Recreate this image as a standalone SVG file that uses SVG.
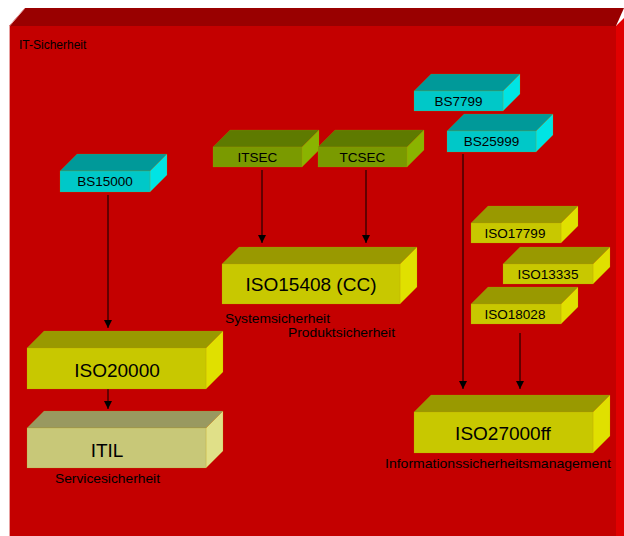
<svg xmlns="http://www.w3.org/2000/svg" width="624" height="536" viewBox="0 0 624 536">
  <defs>
    <marker id="arrow" markerUnits="userSpaceOnUse" markerWidth="8" markerHeight="8" refX="8" refY="4" orient="auto">
      <path d="M0,0 L8,4 L0,8 z" fill="#000"/>
    </marker>
  </defs>
  <style>
    text { font-family: "Liberation Sans", Arial, sans-serif; fill: #000; }
    .small { font-size: 13.5px; text-anchor: middle; }
    .big { font-size: 19px; text-anchor: middle; }
    .caption { font-size: 13px; }
    .edge { stroke: #000; stroke-width: 1; fill: none; marker-end: url(#arrow); }
    .cyan .front { fill: #00c8c8; } .cyan .top { fill: #009999; } .cyan .side { fill: #00e4e4; }
    .green .front { fill: #7a9a00; } .green .top { fill: #5e7a00; } .green .side { fill: #8ab400; }
    .yellow .front { fill: #c8c800; } .yellow .top { fill: #999900; } .yellow .side { fill: #e0e000; }
    .pale .front { fill: #c8c878; } .pale .top { fill: #999960; } .pale .side { fill: #e0e088; }
    .front, .top, .side { stroke: #b89000; stroke-width: 0.5; stroke-opacity: 0.4; }
  </style>

  <rect width="624" height="536" fill="#ffffff"/>

  <!-- outer container: IT-Sicherheit -->
  <g id="it-sicherheit">
    <polygon points="9,26 25,8 624,8 616,26" fill="#990000"/>
    <polygon points="616,26 624,18 624,536 616,536" fill="#e00000"/>
    <rect x="9" y="26" width="607" height="510" fill="#c40000"/>
    <line x1="9.5" y1="26" x2="9.5" y2="536" stroke="#e8a0a0" stroke-width="1"/>
    <line x1="9.5" y1="26" x2="25" y2="8" stroke="#e8a0a0" stroke-width="1"/>
    <text x="19" y="49" style="font-size:12px">IT-Sicherheit</text>
  </g>

  <!-- connectors -->
  <g id="connectors">
    <line class="edge" x1="108" y1="195" x2="108" y2="328"/>
    <line class="edge" x1="108" y1="389" x2="108" y2="409"/>
    <line class="edge" x1="262" y1="170" x2="262" y2="243"/>
    <line class="edge" x1="366" y1="170" x2="366" y2="243"/>
    <line class="edge" x1="463" y1="154" x2="463" y2="389"/>
    <line class="edge" x1="520" y1="333" x2="520" y2="389"/>
  </g>

  <!-- BS15000 -->
  <g id="bs15000" class="cyan">
    <polygon class="top" points="60,171 77,154 167,154 150,171"/>
    <polygon class="side" points="150,171 167,154 167,175 150,192"/>
    <rect class="front" x="60" y="171" width="90" height="21"/>
    <text class="small" x="105" y="186">BS15000</text>
  </g>

  <!-- BS7799 -->
  <g id="bs7799" class="cyan">
    <polygon class="top" points="414,91 431,74 520,74 503,91"/>
    <polygon class="side" points="503,91 520,74 520,94 503,111"/>
    <rect class="front" x="414" y="91" width="89" height="20"/>
    <text class="small" x="458.5" y="106">BS7799</text>
  </g>

  <!-- BS25999 -->
  <g id="bs25999" class="cyan">
    <polygon class="top" points="447,131 464,114 553,114 536,131"/>
    <polygon class="side" points="536,131 553,114 553,135 536,152"/>
    <rect class="front" x="447" y="131" width="89" height="21"/>
    <text class="small" x="491.5" y="146">BS25999</text>
  </g>

  <!-- ITSEC -->
  <g id="itsec" class="green">
    <polygon class="top" points="213,147 230,130 319,130 302,147"/>
    <polygon class="side" points="302,147 319,130 319,150 302,167"/>
    <rect class="front" x="213" y="147" width="89" height="20"/>
    <text class="small" x="257.5" y="162">ITSEC</text>
  </g>

  <!-- TCSEC -->
  <g id="tcsec" class="green">
    <polygon class="top" points="318,147 335,130 424,130 407,147"/>
    <polygon class="side" points="407,147 424,130 424,150 407,167"/>
    <rect class="front" x="318" y="147" width="89" height="20"/>
    <text class="small" x="362.5" y="162">TCSEC</text>
  </g>

  <!-- ISO15408 (CC) -->
  <g id="iso15408" class="yellow">
    <polygon class="top" points="222,264 239,247 417,247 400,264"/>
    <polygon class="side" points="400,264 417,247 417,287 400,304"/>
    <rect class="front" x="222" y="264" width="178" height="40"/>
    <text class="big" x="311" y="291">ISO15408 (CC)</text>
    <text class="caption" x="225" y="323" textLength="105" lengthAdjust="spacingAndGlyphs">Systemsicherheit</text>
    <text class="caption" x="288" y="337" textLength="107" lengthAdjust="spacingAndGlyphs">Produktsicherheit</text>
  </g>

  <!-- ISO20000 -->
  <g id="iso20000" class="yellow">
    <polygon class="top" points="27,348 44,331 223,331 206,348"/>
    <polygon class="side" points="206,348 223,331 223,372 206,389"/>
    <rect class="front" x="27" y="348" width="179" height="41"/>
    <text class="big" x="117" y="377">ISO20000</text>
  </g>

  <!-- ITIL -->
  <g id="itil" class="pale">
    <polygon class="top" points="27,428 44,411 223,411 206,428"/>
    <polygon class="side" points="206,428 223,411 223,451 206,468"/>
    <rect class="front" x="27" y="428" width="179" height="40"/>
    <text class="big" x="107" y="457">ITIL</text>
    <text class="caption" x="55" y="483" textLength="105" lengthAdjust="spacingAndGlyphs">Servicesicherheit</text>
  </g>

  <!-- ISO17799 -->
  <g id="iso17799" class="yellow">
    <polygon class="top" points="471,223 488,206 578,206 561,223"/>
    <polygon class="side" points="561,223 578,206 578,226 561,243"/>
    <rect class="front" x="471" y="223" width="90" height="20"/>
    <text class="small" x="515" y="238">ISO17799</text>
  </g>

  <!-- ISO13335 -->
  <g id="iso13335" class="yellow">
    <polygon class="top" points="503,264 520,247 610,247 593,264"/>
    <polygon class="side" points="593,264 610,247 610,267 593,284"/>
    <rect class="front" x="503" y="264" width="90" height="20"/>
    <text class="small" x="548" y="279">ISO13335</text>
  </g>

  <!-- ISO18028 -->
  <g id="iso18028" class="yellow">
    <polygon class="top" points="471,304 488,287 578,287 561,304"/>
    <polygon class="side" points="561,304 578,287 578,307 561,324"/>
    <rect class="front" x="471" y="304" width="90" height="20"/>
    <text class="small" x="515" y="319">ISO18028</text>
  </g>

  <!-- ISO27000ff -->
  <g id="iso27000ff" class="yellow">
    <polygon class="top" points="414,412 431,395 610,395 593,412"/>
    <polygon class="side" points="593,412 610,395 610,436 593,453"/>
    <rect class="front" x="414" y="412" width="179" height="41"/>
    <text class="big" x="503" y="440">ISO27000ff</text>
    <text class="caption" x="385" y="468" textLength="226" lengthAdjust="spacingAndGlyphs">Informationssicherheitsmanagement</text>
  </g>
</svg>
